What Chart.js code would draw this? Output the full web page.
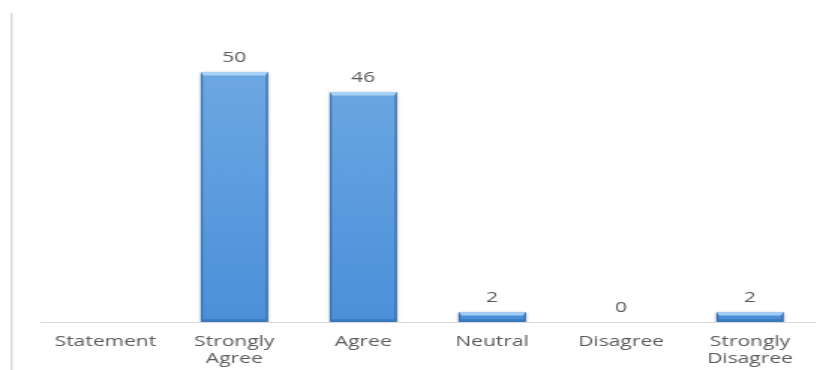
<!DOCTYPE html>
<html>
<head>
<meta charset="utf-8">
<script src="https://cdn.jsdelivr.net/npm/chart.js@4/dist/chart.umd.min.js"></script>
<style>
  html, body { margin: 0; padding: 0; background: #ffffff; }
  #wrap { width: 832px; height: 370px; }
</style>
</head>
<body>
<div id="wrap">
  <!-- drawn at a narrower internal width and widened for display -->
  <canvas id="chart" width="555" height="370" style="width:832px;height:370px;display:block"></canvas>
</div>
<script>
// Survey response counts
const categories = [
  "Statement",
  ["Strongly", "Agree"],
  "Agree",
  "Neutral",
  "Disagree",
  ["Strongly", "Disagree"]
];
const responses = [null, 50, 46, 2, 0, 2];

const TEXT = "#595959";
const FONT = "'Open Sans', 'DejaVu Sans', sans-serif";

// Thin frame line down the left side of the plot
const frameLine = {
  id: "frameLine",
  beforeDraw(chart) {
    const ctx = chart.ctx;
    ctx.save();
    ctx.strokeStyle = "#d9d9d9";
    ctx.lineWidth = 1.5;
    ctx.beginPath();
    ctx.moveTo(7.7, 13);
    ctx.lineTo(7.7, chart.height);
    ctx.stroke();
    ctx.restore();
  }
};

// Soft shadow under the bars
const barShadow = {
  id: "barShadow",
  beforeDatasetsDraw(chart) {
    const ctx = chart.ctx;
    ctx.save();
    ctx.shadowColor = "rgba(0,0,0,0.35)";
    ctx.shadowBlur = 3;
    ctx.shadowOffsetX = 0;
    ctx.shadowOffsetY = 1;
  },
  afterDatasetsDraw(chart) {
    chart.ctx.restore();
  }
};

// Bevelled edges on each bar, then the value above it
const bevelAndValues = {
  id: "bevelAndValues",
  afterDatasetsDraw(chart) {
    const ctx = chart.ctx;
    const meta = chart.getDatasetMeta(0);
    const values = chart.data.datasets[0].data;
    meta.data.forEach((bar, i) => {
      const v = values[i];
      if (v === null || v === undefined) return;
      const { x, y, base, width } = bar.getProps(["x", "y", "base", "width"], true);
      const l = x - width / 2, r = x + width / 2;
      const h = base - y;
      if (h > 0.5) {
        const bv = Math.min(3.5, h / 2.5);
        const side = 1.6;
        ctx.save();
        // top highlight
        ctx.fillStyle = "rgba(185,220,250,0.8)";
        ctx.beginPath();
        ctx.moveTo(l, y); ctx.lineTo(r, y);
        ctx.lineTo(r - side, y + bv); ctx.lineTo(l + side, y + bv);
        ctx.closePath(); ctx.fill();
        // bottom shade
        ctx.fillStyle = "rgba(40,95,165,0.5)";
        ctx.beginPath();
        ctx.moveTo(l, base); ctx.lineTo(r, base);
        ctx.lineTo(r - side, base - bv * 0.8); ctx.lineTo(l + side, base - bv * 0.8);
        ctx.closePath(); ctx.fill();
        // side edges
        const gl = ctx.createLinearGradient(l, 0, l + side * 1.6, 0);
        gl.addColorStop(0, "rgba(45,95,155,0.9)");
        gl.addColorStop(1, "rgba(45,95,155,0)");
        ctx.fillStyle = gl;
        ctx.beginPath();
        ctx.moveTo(l, y); ctx.lineTo(l + side, y + bv);
        ctx.lineTo(l + side, base - bv * 0.8); ctx.lineTo(l, base);
        ctx.closePath(); ctx.fill();
        const gr = ctx.createLinearGradient(r, 0, r - side * 1.6, 0);
        gr.addColorStop(0, "rgba(45,95,155,0.9)");
        gr.addColorStop(1, "rgba(45,95,155,0)");
        ctx.fillStyle = gr;
        ctx.beginPath();
        ctx.moveTo(r, y); ctx.lineTo(r - side, y + bv);
        ctx.lineTo(r - side, base - bv * 0.8); ctx.lineTo(r, base);
        ctx.closePath(); ctx.fill();
        ctx.restore();
      }
      ctx.save();
      ctx.fillStyle = TEXT;
      ctx.font = "14px " + FONT;
      ctx.textAlign = "center";
      ctx.textBaseline = "middle";
      ctx.fillText(String(v), x, y - 14);
      ctx.restore();
    });
  }
};

new Chart(document.getElementById("chart"), {
  type: "bar",
  data: {
    labels: categories,
    datasets: [{
      data: responses,
      backgroundColor(context) {
        const area = context.chart.chartArea;
        if (!area) return "#5b9bd5";
        const g = context.chart.ctx.createLinearGradient(0, area.top, 0, area.bottom);
        g.addColorStop(0, "#74ace5");
        g.addColorStop(1, "#4a90d9");
        return g;
      },
      borderWidth: 0,
      barPercentage: 0.52,
      categoryPercentage: 1.0
    }]
  },
  options: {
    responsive: false,
    maintainAspectRatio: false,
    devicePixelRatio: 1,
    animation: false,
    layout: { padding: { left: 27.3, right: 11.7, top: 22, bottom: 0 } },
    plugins: {
      legend: { display: false },
      tooltip: { enabled: false }
    },
    scales: {
      x: {
        grid: { display: false, drawTicks: false },
        border: { display: true, color: "#d9d9d9", width: 1 },
        ticks: {
          color: TEXT,
          font: { family: FONT, size: 14, lineHeight: 1.2 },
          padding: 12,
          autoSkip: false,
          maxRotation: 0,
          minRotation: 0
        },
        afterFit(scale) { scale.height = 48; }
      },
      y: {
        display: false,
        min: 0,
        max: 60
      }
    }
  },
  plugins: [frameLine, barShadow, bevelAndValues]
});
</script>
</body>
</html>
